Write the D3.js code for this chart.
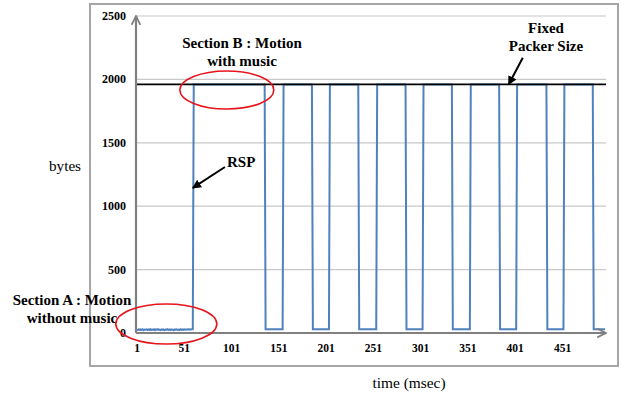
<!DOCTYPE html>
<html>
<head>
<meta charset="utf-8">
<script src="https://cdn.jsdelivr.net/npm/d3@7"></script>
<style>
  body { margin: 0; background: #fff; }
  svg text { font-family: 'Liberation Serif', 'DejaVu Serif', serif; }
</style>
</head>
<body>
<div class="chart"></div>
<script>
// packet size over time
const yTicks = [0, 500, 1000, 1500, 2000, 2500];
const xTicks = [1, 51, 101, 151, 201, 251, 301, 351, 401, 451];

// section A: motion without music (index 1..60)
const sectionA = [27, 24, 29, 23, 28, 25, 30, 22, 27, 26, 29, 23, 28, 24, 30, 23,
  27, 25, 29, 22, 28, 26, 30, 24, 27, 23, 29, 25, 28, 22, 27, 26, 30, 24, 28, 23,
  29, 25, 27, 22, 28, 26, 29, 24, 27, 23, 30, 25, 28, 24, 29, 26, 28, 27, 29, 28,
  29, 28, 29, 29];

// section B: step levels (start index, end index, bytes)
const segStart = [61, 137, 156, 187, 205, 236, 255, 286, 304, 335, 354, 385, 403, 435, 453, 484];
const segEnd   = [136, 155, 186, 204, 235, 254, 285, 303, 334, 353, 384, 402, 434, 452, 483, 496];
const segLevel = [1960, 30, 1960, 30, 1960, 30, 1960, 30, 1960, 30, 1960, 30, 1960, 30, 1960, 30];

const fixedSize = 1960;

const w = 621, h = 394;
const padL = 136, padR = 606, padT = 16, padB = 333;
const serif = "'Liberation Serif', 'DejaVu Serif', serif";

const svg = d3.select(".chart").append("svg")
  .attr("width", w).attr("height", h)
  .attr("font-family", serif);

// outer frame
svg.append("rect")
  .attr("x", 90).attr("y", 4)
  .attr("width", 528).attr("height", 362)
  .attr("fill", "none").attr("stroke", "#a6a6a6").attr("stroke-width", 2);

const x = d3.scaleLinear().domain([1, 497]).range([padL + 1, padR]);
const y = d3.scaleLinear().domain([0, 2500]).range([padB, padT]);

const defs = svg.append("defs");
defs.append("marker").attr("id", "axArrow")
  .attr("viewBox", "0 0 10 10").attr("refX", 9).attr("refY", 5)
  .attr("markerWidth", 5).attr("markerHeight", 5).attr("orient", "auto")
  .append("path").attr("d", "M1,1 L9,5 L1,9")
  .attr("fill", "none").attr("stroke", "#808080").attr("stroke-width", 1.6);
defs.append("marker").attr("id", "blkArrow")
  .attr("viewBox", "0 0 10 10").attr("refX", 9).attr("refY", 5)
  .attr("markerWidth", 9).attr("markerHeight", 9).attr("markerUnits", "userSpaceOnUse")
  .attr("orient", "auto")
  .append("path").attr("d", "M0,0 L10,5 L0,10 Z").attr("fill", "#000");

// gridlines
svg.append("g").selectAll("line")
  .data(yTicks.filter(d => d > 0)).enter().append("line")
  .attr("x1", padL).attr("x2", padR)
  .attr("y1", d => y(d)).attr("y2", d => y(d))
  .attr("stroke", "#c8c8c8").attr("stroke-width", 1.2);

// y tick labels
svg.append("g").selectAll("text")
  .data(yTicks).enter().append("text")
  .attr("x", 126).attr("y", d => y(d) + 4)
  .attr("text-anchor", "end")
  .attr("font-size", 12).attr("font-weight", "bold")
  .text(d => d);

// x tick labels
svg.append("g").selectAll("text")
  .data(xTicks).enter().append("text")
  .attr("x", d => x(d)).attr("y", 352)
  .attr("text-anchor", "middle")
  .attr("font-size", 11.5).attr("font-weight", "bold")
  .text(d => d);

// series points
let pts = sectionA.map((v, i) => [i + 1, v]);
segStart.forEach((s, i) => {
  pts.push([s, segLevel[i]]);
  pts.push([segEnd[i], segLevel[i]]);
});

const line = d3.line().x(d => x(d[0])).y(d => y(d[1]));

svg.append("path")
  .datum(pts)
  .attr("d", line)
  .attr("fill", "none")
  .attr("stroke", "#4f81bd")
  .attr("stroke-width", 2);

// fixed packet size line
svg.append("line")
  .attr("x1", padL).attr("x2", padR)
  .attr("y1", y(fixedSize)).attr("y2", y(fixedSize))
  .attr("stroke", "#000").attr("stroke-width", 1.8);

// axes with arrows
svg.append("line")
  .attr("x1", padL).attr("y1", padB).attr("x2", padL).attr("y2", padT)
  .attr("stroke", "#808080").attr("stroke-width", 2.2)
  .attr("marker-end", "url(#axArrow)");
svg.append("line")
  .attr("x1", padL).attr("y1", padB).attr("x2", padR).attr("y2", padB)
  .attr("stroke", "#808080").attr("stroke-width", 2.2)
  .attr("marker-end", "url(#axArrow)");

// axis titles
svg.append("text").attr("x", 65).attr("y", 171)
  .attr("text-anchor", "middle").attr("font-size", 15.2).text("bytes");
svg.append("text").attr("x", 409).attr("y", 388)
  .attr("text-anchor", "middle").attr("font-size", 15.4).text("time (msec)");

// annotations
const bold = (tx, ty, s) => svg.append("text")
  .attr("x", tx).attr("y", ty).attr("text-anchor", "middle")
  .attr("font-size", 15).attr("font-weight", "bold").text(s);

bold(242, 48, "Section B : Motion");
bold(242, 66, "with music");
bold(546, 33, "Fixed");
bold(546, 51, "Packer Size");
bold(72, 305, "Section A : Motion");
bold(72, 323, "without music");
svg.append("text").attr("x", 227).attr("y", 167)
  .attr("font-size", 15).attr("font-weight", "bold").text("RSP");

// red ellipses
svg.append("ellipse")
  .attr("cx", x(96)).attr("cy", y(1916)).attr("rx", 47).attr("ry", 19)
  .attr("fill", "none").attr("stroke", "#e8141b").attr("stroke-width", 1.6);
svg.append("ellipse")
  .attr("cx", x(32)).attr("cy", y(71)).attr("rx", 50.5).attr("ry", 20)
  .attr("fill", "none").attr("stroke", "#e8141b").attr("stroke-width", 1.6);

// pointer arrows
svg.append("line")
  .attr("x1", x(94)).attr("y1", y(1309)).attr("x2", x(60)).attr("y2", y(1144))
  .attr("stroke", "#000").attr("stroke-width", 2)
  .attr("marker-end", "url(#blkArrow)");
svg.append("line")
  .attr("x1", x(409)).attr("y1", y(2170)).attr("x2", x(394)).attr("y2", y(1960))
  .attr("stroke", "#000").attr("stroke-width", 2)
  .attr("marker-end", "url(#blkArrow)");
</script>
</body>
</html>
